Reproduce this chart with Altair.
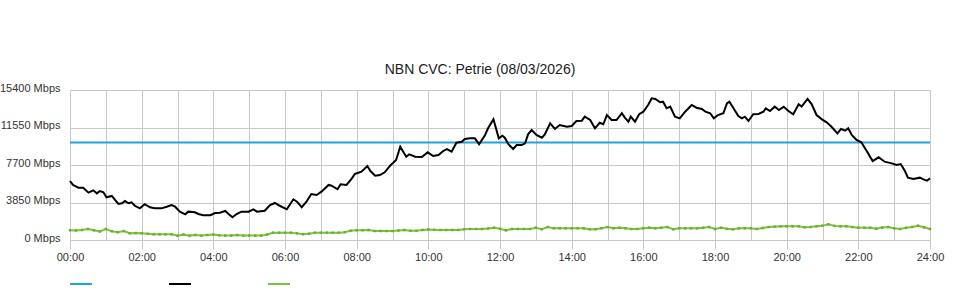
import altair as alt
import pandas as pd

TITLE = "NBN CVC: Petrie (08/03/2026)"
SERIES = ["Capacity", "Download", "Upload"]
COLORS = ["#22a3de", "#000000", "#7cc142"]

# capacity (blue)
cap_min = [0, 1440]
cap_mbps = [10000, 10000]

# download (black) - minutes since midnight, Mbps
black_min = [0, 5, 14, 22, 31, 39, 45, 50, 56, 61, 70, 81, 87, 92, 98, 103, 109, 117, 125, 134,
             142, 153, 162, 170, 176, 184, 193, 198, 209, 215, 223, 235, 243, 251, 260, 265, 272, 279, 287, 299,
             307, 313, 326, 335, 343, 352, 363, 374, 380, 388, 396, 404, 413, 421, 433, 438, 448, 453, 463, 472,
             477, 488, 498, 503, 511, 519, 527, 536, 546, 553, 563, 568, 578, 589, 599, 608, 617, 625, 631, 639,
             647, 656, 661, 670, 678, 685, 695, 700, 709, 718, 724, 728, 734, 742, 748, 756, 762, 767, 773, 781,
             790, 795, 804, 812, 820, 832, 840, 848, 857, 862, 871, 879, 887, 893, 899, 907, 915, 924, 929, 935,
             939, 946, 953, 960, 968, 974, 980, 988, 993, 999, 1005, 1013, 1021, 1030, 1041, 1049, 1058, 1064, 1072, 1078,
             1085, 1094, 1100, 1104, 1111, 1119, 1125, 1130, 1136, 1144, 1153, 1161, 1165, 1172, 1180, 1187, 1195, 1203, 1211, 1220,
             1225, 1235, 1242, 1250, 1259, 1267, 1275, 1285, 1291, 1298, 1303, 1309, 1317, 1325, 1334, 1344, 1354, 1364, 1376, 1384,
             1391, 1398, 1403, 1412, 1423, 1429, 1435, 1440]
black_mbps = [6060, 5650, 5370, 5370, 4860, 5100, 4790, 5030, 4900, 4380, 4520, 3700, 3770, 4000, 3770, 3870, 3490, 3250, 3670, 3360,
              3250, 3250, 3420, 3590, 3420, 2910, 2640, 2910, 2840, 2670, 2540, 2540, 2770, 2800, 2980, 2700, 2330, 2670, 2910, 2910,
              3150, 2910, 3010, 3590, 3800, 3490, 3150, 4180, 3930, 3360, 3930, 4720, 4620, 4960, 5650, 5570, 5210, 5720, 5650, 6330,
              6780, 7010, 7600, 7080, 6600, 6670, 6950, 7630, 8210, 9580, 8550, 8800, 8550, 8520, 9000, 8620, 8730, 9140, 9340, 9070,
              9990, 10090, 10370, 10440, 10440, 9830, 10780, 11470, 12390, 10440, 10710, 10500, 9830, 9340, 9750, 9750, 9930, 10850, 11290, 10780,
              10500, 10850, 11980, 11400, 11810, 11630, 11700, 12220, 12250, 12660, 12320, 11470, 12040, 11880, 12830, 12320, 12320, 13010, 12560, 12150,
              12660, 12150, 12910, 13170, 13860, 14550, 14480, 14140, 14200, 13520, 13690, 12660, 12490, 13170, 13860, 13580, 13450, 13170, 13010, 12490,
              12830, 13010, 14030, 14200, 13520, 12730, 12490, 12660, 12220, 12910, 12940, 13170, 13520, 13240, 13690, 13350, 13690, 13240, 12910, 13930,
              13690, 14480, 13930, 12830, 12390, 12080, 11630, 10950, 11400, 11220, 11470, 10780, 10270, 10030, 9140, 8110, 8490, 8040, 7870, 7700,
              7800, 7080, 6400, 6260, 6400, 6230, 6090, 6330]

# upload (green) - every 10 minutes
green_mbps = [1000, 980, 1030, 1130, 1000, 870, 1130, 900, 800, 920, 690, 720, 690, 640, 580, 580, 580, 580, 450, 560,
              450, 520, 450, 510, 560, 480, 450, 450, 510, 450, 450, 450, 450, 560, 750, 750, 750, 750, 680, 600,
              650, 750, 750, 750, 750, 750, 800, 955, 1000, 1000, 1030, 920, 920, 920, 920, 970, 1030, 950, 940, 1030,
              1090, 1050, 1030, 1030, 1030, 1030, 1100, 1130, 1130, 1130, 1180, 1260, 1150, 990, 1130, 1130, 1130, 1130, 1265, 1100,
              1335, 1200, 1200, 1200, 1200, 1200, 1200, 1100, 1100, 1200, 1335, 1200, 1265, 1200, 1130, 1130, 1200, 1265, 1200, 1265,
              1335, 1100, 1200, 1200, 1200, 1200, 1250, 1335, 1130, 1265, 1150, 1100, 1200, 1200, 1200, 1130, 1230, 1335, 1370, 1400,
              1400, 1400, 1400, 1300, 1330, 1400, 1470, 1610, 1450, 1400, 1400, 1330, 1265, 1265, 1265, 1165, 1280, 1335, 1200, 1130,
              1250, 1335, 1470, 1300, 1130]
green_min = [i * 10 for i in range(len(green_mbps))]

assert len(black_min) == len(black_mbps)

rows = []
for m, v in zip(cap_min, cap_mbps):
    rows.append({"series": SERIES[0], "minute": m, "mbps": v})
for m, v in zip(black_min, black_mbps):
    rows.append({"series": SERIES[1], "minute": m, "mbps": v})
for m, v in zip(green_min, green_mbps):
    rows.append({"series": SERIES[2], "minute": m, "mbps": v})
df = pd.DataFrame(rows)

FONT = "Liberation Sans"
GRID = "#c8c8c8"

x = alt.X(
    "minute:Q",
    scale=alt.Scale(domain=[0, 1440], nice=False, zero=False),
    axis=alt.Axis(
        title=None,
        values=list(range(0, 1441, 60)),
        labelExpr="datum.value % 120 == 0 ? ((datum.value < 600 ? '0' : '') + floor(datum.value / 60) + ':00') : ''",
        grid=True, gridColor=GRID, gridWidth=1,
        domain=False,
        tickColor=GRID, tickSize=9,
        tickOpacity={"condition": {"test": "datum.value % 120 == 0", "value": 1}, "value": 0},
        labelFont=FONT, labelFontSize=11, labelColor="#333333", labelPadding=2,
        labelFlush=False, labelOverlap=False,
    ),
)
y = alt.Y(
    "mbps:Q",
    scale=alt.Scale(domain=[0, 15400], nice=False),
    axis=alt.Axis(
        title=None,
        values=[0, 3850, 7700, 11550, 15400],
        labelExpr="datum.value + ' Mbps'",
        grid=True, gridColor=GRID, gridWidth=1,
        domain=False, ticks=False, labelPadding=10, labelOffset=-2,
        labelFlush=False, labelOverlap=False,
        labelFont=FONT, labelFontSize=11, labelColor="#333333",
    ),
)

color = alt.Color(
    "series:N",
    scale=alt.Scale(domain=SERIES, range=COLORS),
    legend=alt.Legend(
        title=None, orient="none", legendX=-1, legendY=182,
        direction="horizontal", columns=3,
        symbolType="stroke", symbolSize=484, symbolStrokeWidth=2,
        labelExpr="''", labelOffset=0, columnPadding=69,
    ),
)

lines = alt.Chart(df).mark_line(strokeWidth=2).encode(
    x=x, y=y, color=color, order="minute:Q", detail="series:N"
)

pts = alt.Chart(df).transform_filter(alt.datum.series == SERIES[2]).mark_square(
    size=6, color="#6aae2a", opacity=1, filled=True
).encode(x=x, y=y)

chart = alt.layer(lines, pts).properties(
    width=860, height=150,
    padding={"left": 70, "top": 90, "right": 30, "bottom": 60},
    autosize=alt.AutoSizeParams(type="none"),
    title=alt.TitleParams(
        TITLE, font=FONT, fontSize=14, fontWeight="normal", color="#222222",
        anchor="middle", offset=5, dx=-20,
    ),
).configure_view(stroke=None).configure(background="white")

chart.save("out.html", embed_options={"renderer": "svg", "actions": False})
